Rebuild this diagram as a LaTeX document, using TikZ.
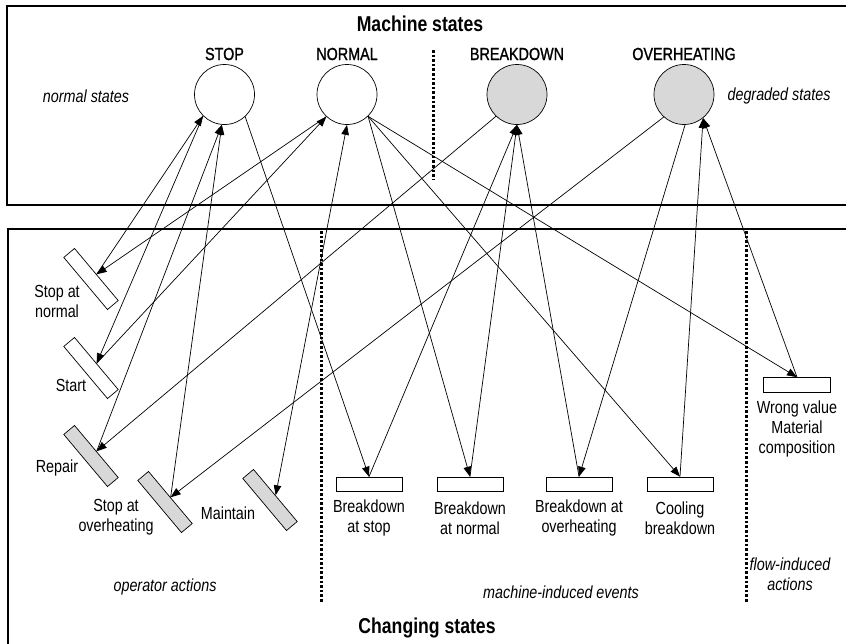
\documentclass[tikz,border=0pt]{standalone}
\usepackage{fontspec}
\setmainfont{Liberation Sans}[FakeStretch=0.82]
\newfontfamily\statefont{Liberation Sans}[FakeStretch=0.82, FakeBold=1.2]
\usetikzlibrary{arrows.meta}
\definecolor{stategray}{RGB}{216,216,216}
\begin{document}
\begin{tikzpicture}[x=1pt,y=-1pt,
  frame/.style={line width=2.8pt},
  sep/.style={line width=3pt, dash pattern=on 2.6pt off 2pt},
  state/.style={circle, draw, line width=0.7pt, minimum size=60pt, inner sep=0pt},
  degraded/.style={state, fill=stategray},
  act/.style={draw, line width=0.7pt, minimum width=68pt, minimum height=14pt, inner sep=0pt, rotate=-50},
  grayact/.style={act, fill=stategray},
  evt/.style={draw, line width=0.7pt, minimum width=66pt, minimum height=14pt, inner sep=0pt},
  lbl/.style={font=\fontsize{17.5}{20}\selectfont, align=center, inner sep=0pt},
  statelbl/.style={font=\statefont\fontsize{17.5}{20}\selectfont, inner sep=0pt},
  note/.style={lbl, font=\fontsize{17.5}{20}\selectfont\itshape},
  heading/.style={font=\fontsize{21.5}{24}\selectfont\bfseries, inner sep=0pt},
  link/.style={line width=0.7pt},
  arr/.style={link, -{Triangle[length=10pt,width=7.5pt]}},
  biarr/.style={link, {Triangle[length=10pt,width=7.5pt]}-{Triangle[length=10pt,width=7.5pt]}},
]
\useasboundingbox (0,0) rectangle (846,643);
\clip (0,0) rectangle (846,643);
\fill[white] (0,0) rectangle (846,643);

% frames of the two panels
\draw[frame] (7,6) rectangle (852,205);
\draw[frame] (8,229) rectangle (852,652);

% separators
\draw[sep] (433,50) -- (433,180);
\draw[sep] (321,231) -- (321,602);
\draw[sep] (746,231) -- (746,602);

% panel titles and group notes
\node[heading] (tMachine) at (420,24) {Machine states};
\node[heading] (tChanging) at (427,628) {Changing states};
\node[note] (nNormal) at (86,96) {normal states};
\node[note] (nDegraded) at (779,96) {degraded states};
\node[note] (nOperator) at (165,587) {operator actions};
\node[note] (nMachine) at (561,592) {machine-induced events};
\node[note] (nFlow) at (790,574) {flow-induced\\actions};

% machine states
\node[state] (sStop) at (224.5,94.5) {};
\node[state] (sNormal) at (347,94.5) {};
\node[degraded] (sBreak) at (517,94.5) {};
\node[degraded] (sOver) at (684,94.5) {};
\node[statelbl] (lStop) at (224.5,54) {STOP};
\node[statelbl] (lNormal) at (347,54) {NORMAL};
\node[statelbl] (lBreak) at (517,54) {BREAKDOWN};
\node[statelbl] (lOver) at (684,54) {OVERHEATING};

% operator actions
\node[act] (aStopN) at (91,279) {};
\node[act] (aStart) at (91,368) {};
\node[grayact] (aRepair) at (91,456) {};
\node[grayact] (aStopO) at (165,502) {};
\node[grayact] (aMaint) at (270,500) {};
\node[lbl] (lStopN) at (57,301) {Stop at\\normal};
\node[lbl] (lStart) at (71,385) {Start};
\node[lbl] (lRepair) at (57,468) {Repair};
\node[lbl] (lStopO) at (116,517) {Stop at\\overheating};
\node[lbl] (lMaint) at (228,513) {Maintain};

% machine-induced events
\node[evt] (eBstop) at (369,484) {};
\node[evt] (eBnorm) at (470,484) {};
\node[evt] (eBover) at (579,484) {};
\node[evt] (eCool) at (680,484) {};
\node[lbl] (lBstop) at (369,518) {Breakdown\\at stop};
\node[lbl] (lBnorm) at (470,518) {Breakdown\\at normal};
\node[lbl] (lBover) at (579,518) {Breakdown at\\overheating};
\node[lbl] (lCool) at (680,518) {Cooling\\breakdown};

% flow-induced action
\node[evt, minimum width=67pt, minimum height=15pt] (fWrong) at (797,385) {};
\node[lbl] (lWrong) at (797,429) {Wrong value\\Material\\composition};

% transitions of the operator actions
\draw[arr] (sNormal.227) -- (aStopN.north);
\draw[arr] (aStopN.north) -- (sStop.225);
\draw[arr] (sStop.225) -- (aStart.north);
\draw[arr] (aStart.north) -- (sNormal.227);
\draw[arr] (sBreak.226) -- (aRepair.north);
\draw[arr] (aRepair.north) -- (sStop.265);
\draw[arr] (sOver.228) -- (aStopO.north);
\draw[arr] (aStopO.north) -- (sStop.265);
\draw[biarr] (sNormal.270) -- (aMaint.north);

% transitions of the machine-induced events
\draw[arr] (sStop.313) -- (eBstop.north);
\draw[arr] (eBstop.north) -- (sBreak.270);
\draw[arr] (sNormal.314) -- (eBnorm.north);
\draw[arr] (eBnorm.north) -- (sBreak.270);
\draw[arr] (sOver.272) -- (eBover.north);
\draw[arr] (eBover.north) -- (sBreak.270);
\draw[arr] (sNormal.314) -- (eCool.north);
\draw[arr] (eCool.north) -- (sOver.309);

% transitions of the flow-induced action
\draw[arr] (sNormal.314) -- (fWrong.north);
\draw[arr] (fWrong.north) -- (sOver.309);
\end{tikzpicture}
\end{document}
